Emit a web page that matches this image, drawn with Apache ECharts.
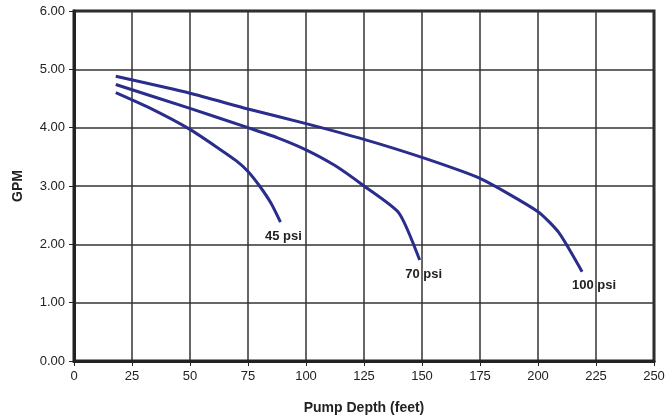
<!DOCTYPE html>
<html><head><meta charset="utf-8">
<script src="https://cdn.jsdelivr.net/npm/echarts@6/dist/echarts.min.js"></script>
<style>html,body{margin:0;padding:0;background:#fff}#c{width:667px;height:417px}</style>
</head><body><div id="c"></div>
<script>
const xTicks = [0, 25, 50, 75, 100, 125, 150, 175, 200, 225, 250];
const yTicks = [0, 1, 2, 3, 4, 5, 6];
const psi45X = [18, 33, 50, 62.5, 70, 75, 80, 85, 89];
const psi45Y = [4.60, 4.33, 3.97, 3.64, 3.43, 3.25, 3.00, 2.70, 2.38];
const psi70X = [18, 50, 75, 87.5, 100, 112.5, 125, 140, 149];
const psi70Y = [4.74, 4.33, 4.00, 3.83, 3.62, 3.35, 3.00, 2.54, 1.73];
const psi100X = [18, 50, 75, 100, 125, 150, 175, 200, 209, 219];
const psi100Y = [4.88, 4.59, 4.32, 4.07, 3.80, 3.49, 3.13, 2.56, 2.20, 1.53];
const seriesNames = ['45 psi', '70 psi', '100 psi'];

const FONT = 'Liberation Sans, Arial, sans-serif';
const chart = echarts.init(document.getElementById('c'));
const lineColor = '#2a2d8c';
function mk(name, xs, ys, labelOffset) {
  const data = xs.map((x, i) => [x, ys[i]]);
  const last = data.length - 1;
  data[last] = {
    value: data[last],
    symbol: 'circle', symbolSize: 1,
    itemStyle: {color: 'rgba(0,0,0,0)'},
    label: {show: true, formatter: name, position: 'bottom', distance: 7, offset: labelOffset,
      fontFamily: FONT, fontWeight: 'bold', fontSize: 13, color: '#222'}
  };
  return {
    type: 'line', name: name, data: data, showSymbol: true, symbol: 'none',
    smooth: 0.2, lineStyle: {color: lineColor, width: 3}, itemStyle: {color: lineColor},
    emphasis: {disabled: true}, silent: true, animation: false
  };
}
chart.setOption({
  animation: false,
  grid: {left: 74, right: 13, top: 11, bottom: 56, outerBoundsMode: 'none', containLabel: false,
    show: true, borderColor: '#222', borderWidth: 3, backgroundColor: 'transparent'},
  xAxis: {
    type: 'value', min: 0, max: 250, interval: 25,
    name: 'Pump Depth (feet)', nameLocation: 'middle', nameGap: 40,
    nameTextStyle: {fontFamily: FONT, fontWeight: 'bold', fontSize: 14, color: '#222'},
    axisLine: {show: true, lineStyle: {color: '#222', width: 3}},
    axisTick: {show: true, length: 5, lineStyle: {color: '#222', width: 1}},
    axisLabel: {fontFamily: FONT, fontSize: 13, color: '#222', margin: 9},
    splitLine: {show: true, lineStyle: {color: '#333', width: 1.5}}
  },
  yAxis: {
    type: 'value', min: 0, max: 6, interval: 1,
    name: 'GPM', nameLocation: 'middle', nameGap: 49, nameRotate: 90,
    nameTextStyle: {fontFamily: FONT, fontWeight: 'bold', fontSize: 14, color: '#222'},
    axisLine: {show: true, lineStyle: {color: '#222', width: 3}},
    axisTick: {show: true, length: 5, lineStyle: {color: '#222', width: 1}},
    axisLabel: {fontFamily: FONT, fontSize: 13, color: '#222', margin: 9,
      formatter: v => v.toFixed(2)},
    splitLine: {show: true, lineStyle: {color: '#333', width: 1.5}}
  },
  series: [
    mk(seriesNames[0], psi45X, psi45Y, [3, 0]),
    mk(seriesNames[1], psi70X, psi70Y, [4, 0]),
    mk(seriesNames[2], psi100X, psi100Y, [12, 0])
  ]
});
</script>
</body></html>
